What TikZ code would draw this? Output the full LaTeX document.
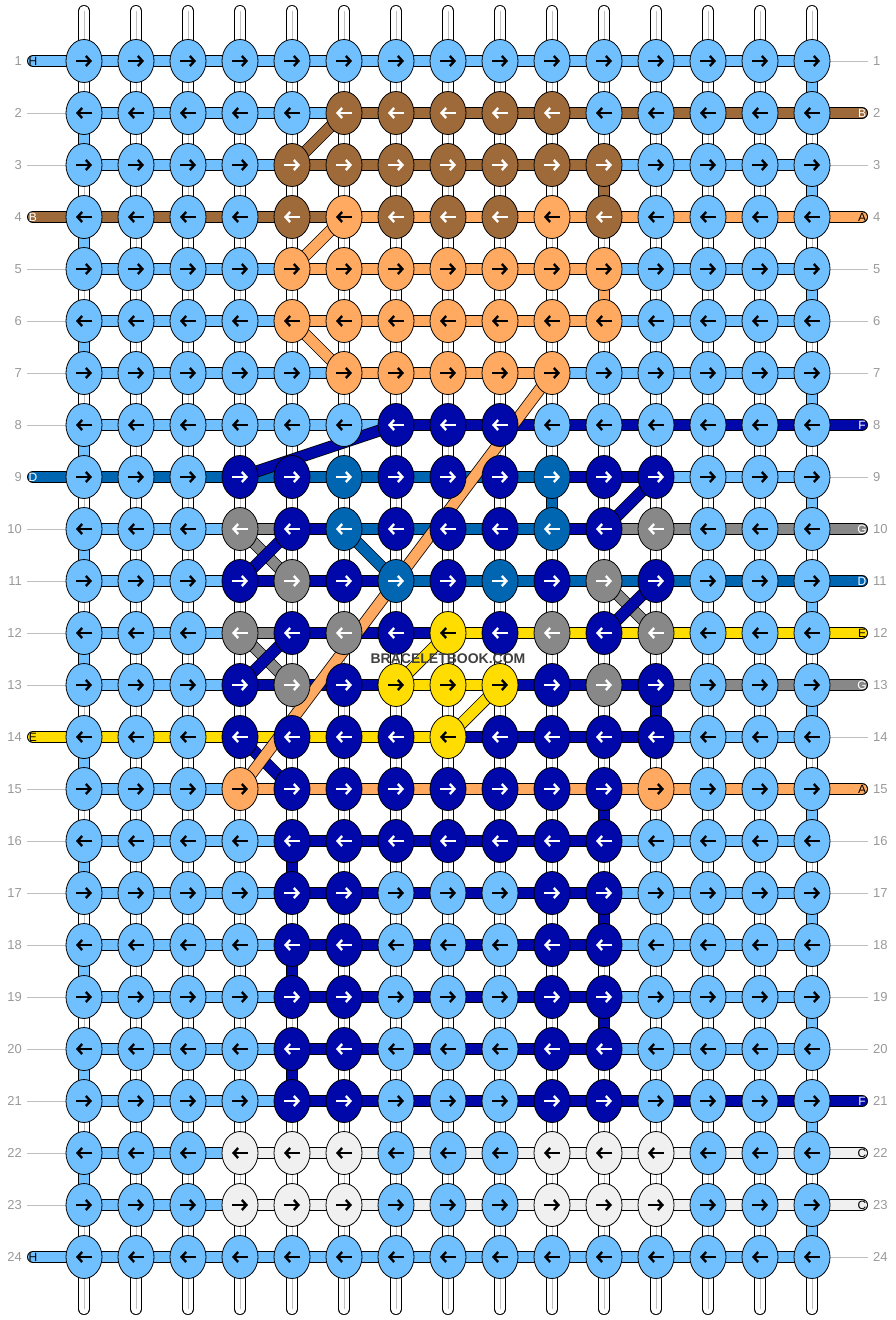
\documentclass[tikz,border=0pt]{standalone}
\usepackage{fontspec}
\setmainfont{Liberation Sans}
\usetikzlibrary{shapes.geometric,arrows.meta}
\definecolor{cL}{RGB}{112,192,255}
\definecolor{cB}{RGB}{158,106,58}
\definecolor{cA}{RGB}{255,170,96}
\definecolor{cF}{RGB}{0,8,170}
\definecolor{cD}{RGB}{0,102,178}
\definecolor{cG}{RGB}{136,136,136}
\definecolor{cE}{RGB}{255,221,0}
\definecolor{cC}{RGB}{240,240,240}
\colorlet{aL}{black}\colorlet{aB}{white}\colorlet{aA}{black}\colorlet{aF}{white}
\colorlet{aD}{white}\colorlet{aG}{white}\colorlet{aE}{black}\colorlet{aC}{black}
\colorlet{rownum}{black!40}
\pgfdeclarelayer{back}\pgfdeclarelayer{mid}\pgfsetlayers{back,mid,main}
\tikzset{
  knot/.style={ellipse,draw=black,line width=0.8pt,minimum width=36pt,minimum height=43pt,inner sep=0pt},
  thread/.style={draw=black,line width=0.8pt,double distance=10.4pt},
  warp/.style={thread,double=white,line cap=round},
  knotarrow/.style={line width=2.4pt,-{Straight Barb[length=4.5pt,width=10pt]}},
  rownr/.style={text=rownum,font=\fontsize{13}{13}\selectfont,inner sep=0pt},
  tabletter/.style={font=\fontsize{12}{12}\selectfont,inner sep=0pt},
  labelline/.style={draw=black!25,line width=0.8pt}
}
\begin{document}
\begin{tikzpicture}[x=1pt,y=-1pt]
\useasboundingbox (0,0) rectangle (896,1320);
% knots
\foreach \row [count=\r] in {
  {L,L,L,L,L,L,L,L,L,L,L,L,L,L,L},
  {L,L,L,L,L,B,B,B,B,B,L,L,L,L,L},
  {L,L,L,L,B,B,B,B,B,B,B,L,L,L,L},
  {L,L,L,L,B,A,B,B,B,A,B,L,L,L,L},
  {L,L,L,L,A,A,A,A,A,A,A,L,L,L,L},
  {L,L,L,L,A,A,A,A,A,A,A,L,L,L,L},
  {L,L,L,L,L,A,A,A,A,A,L,L,L,L,L},
  {L,L,L,L,L,L,F,F,F,L,L,L,L,L,L},
  {L,L,L,F,F,D,F,F,F,D,F,F,L,L,L},
  {L,L,L,G,F,D,F,F,F,D,F,G,L,L,L},
  {L,L,L,F,G,F,D,F,D,F,G,F,L,L,L},
  {L,L,L,G,F,G,F,E,F,G,F,G,L,L,L},
  {L,L,L,F,G,F,E,E,E,F,G,F,L,L,L},
  {L,L,L,F,F,F,F,E,F,F,F,F,L,L,L},
  {L,L,L,A,F,F,F,F,F,F,F,A,L,L,L},
  {L,L,L,L,F,F,F,F,F,F,F,L,L,L,L},
  {L,L,L,L,F,F,L,L,L,F,F,L,L,L,L},
  {L,L,L,L,F,F,L,L,L,F,F,L,L,L,L},
  {L,L,L,L,F,F,L,L,L,F,F,L,L,L,L},
  {L,L,L,L,F,F,L,L,L,F,F,L,L,L,L},
  {L,L,L,L,F,F,L,L,L,F,F,L,L,L,L},
  {L,L,L,C,C,C,L,L,L,C,C,C,L,L,L},
  {L,L,L,C,C,C,L,L,L,C,C,C,L,L,L},
  {L,L,L,L,L,L,L,L,L,L,L,L,L,L,L}}{
  \pgfmathsetmacro\xa{ifthenelse(mod(\r,2)==1,-8,8)}
  \pgfmathsetmacro\xb{ifthenelse(mod(\r,2)==1,8,-8)}
  \foreach \c [count=\i] in \row {
    \node[knot,fill=c\c] (k-\r-\i) at ({84+52*(\i-1)},{61+52*(\r-1)}) {};
    \draw[knotarrow,draw=a\c] ([xshift=\xa pt]k-\r-\i.center) -- ([xshift=\xb pt]k-\r-\i.center);
  }
  \node[rownr,anchor=east] (nl-\r) at (22,{61+52*(\r-1)}) {\r};
  \node[rownr,anchor=west] (nr-\r) at (873,{61+52*(\r-1)}) {\r};
}
% warp strands
\begin{pgfonlayer}{back}
\foreach \i in {1,...,15}{
  \coordinate (wt-\i) at ({84+52*(\i-1)},11);
  \coordinate (wb-\i) at ({84+52*(\i-1)},1309);
  \draw[warp] (wt-\i) -- (wb-\i);
  \draw[black!25,line width=0.8pt] (wt-\i) -- (wb-\i);
}
\end{pgfonlayer}
\begin{pgfonlayer}{mid}
% row threads between knots
\foreach \row [count=\r] in {
  {L,L,L,L,L,L,L,L,L,L,L,L,L,L},
  {L,L,L,L,L,B,B,B,B,B,B,B,B,B},
  {L,L,L,L,B,B,B,B,B,B,L,L,L,L},
  {B,B,B,B,B,A,A,A,A,A,A,A,A,A},
  {L,L,L,L,A,A,A,A,A,A,L,L,L,L},
  {L,L,L,L,A,A,A,A,A,A,L,L,L,L},
  {L,L,L,L,L,A,A,A,A,L,L,L,L,L},
  {L,L,L,L,L,L,F,F,F,F,F,F,F,F},
  {D,D,D,D,D,D,D,D,D,F,F,L,L,L},
  {L,L,L,G,F,D,D,D,D,F,G,G,G,G},
  {L,L,L,F,F,F,D,D,D,D,D,D,D,D},
  {L,L,L,G,F,F,F,E,E,E,E,E,E,E},
  {L,L,L,F,F,F,E,E,F,F,F,G,G,G},
  {E,E,E,E,E,E,E,F,F,F,F,L,L,L},
  {L,L,L,A,A,A,A,A,A,A,A,A,A,A},
  {L,L,L,L,F,F,F,F,F,F,L,L,L,L},
  {L,L,L,L,F,F,F,F,F,F,L,L,L,L},
  {L,L,L,L,F,F,F,F,F,F,L,L,L,L},
  {L,L,L,L,F,F,F,F,F,F,L,L,L,L},
  {L,L,L,L,F,F,F,F,F,F,L,L,L,L},
  {L,L,L,L,F,F,F,F,F,F,F,F,F,F},
  {L,L,L,C,C,C,C,C,C,C,C,C,C,C},
  {L,L,L,C,C,C,C,C,C,C,C,C,C,C},
  {L,L,L,L,L,L,L,L,L,L,L,L,L,L}}{
  \foreach \s [count=\i] in \row {
    \pgfmathtruncatemacro\j{\i+1}
    \draw[thread,double=c\s] (k-\r-\i.center) -- (k-\r-\j.center);
  }
}
% threads turning down at the edges and inside
\foreach \r in {2,4,...,22}{
  \pgfmathtruncatemacro\q{\r+1}
  \draw[thread,double=cL] (k-\r-1.center) -- (k-\q-1.center);
}
\foreach \r in {1,3,...,23}{
  \pgfmathtruncatemacro\q{\r+1}
  \draw[thread,double=cL] (k-\r-15.center) -- (k-\q-15.center);
}
\foreach \c/\r/\i in {B/3/11,A/5/11,D/9/10,F/13/12,F/15/11,F/17/11,F/19/11,F/16/5,F/18/5,F/20/5}{
  \pgfmathtruncatemacro\q{\r+1}
  \draw[thread,double=c\c] (k-\r-\i.center) -- (k-\q-\i.center);
}
% diagonal threads
\foreach \c/\ra/\ca/\rb/\cb in {B/2/6/3/5,A/4/6/5/5,A/6/5/7/6,F/8/7/9/4,F/9/12/10/11,
    G/10/4/11/5,F/10/5/11/4,D/10/6/11/7,G/11/11/12/12,F/11/12/12/11,
    G/12/4/13/5,F/12/5/13/4,E/12/8/13/7,E/13/9/14/8,F/14/4/15/5,A/7/10/15/4}
  \draw[thread,double=c\c] (k-\ra-\ca.center) -- (k-\rb-\cb.center);
% thread ends
\foreach \r/\c/\t in {1/L/H,4/B/B,9/D/D,14/E/E,24/L/H}{
  \coordinate (tl-\r) at (33,{61+52*(\r-1)});
  \draw[thread,double=c\c,line cap=round] (k-\r-1.center) -- (tl-\r);
  \node[tabletter,text=a\c] (tlt-\r) at (tl-\r) {\t};
}
\foreach \r/\c/\t in {2/B/B,4/A/A,8/F/F,10/G/G,11/D/D,12/E/E,13/G/G,15/A/A,21/F/F,22/C/C,23/C/C}{
  \coordinate (tr-\r) at (862,{61+52*(\r-1)});
  \draw[thread,double=c\c,line cap=round] (k-\r-15.center) -- (tr-\r);
  \node[tabletter,text=a\c] (trt-\r) at (tr-\r) {\t};
}
\foreach \r in {2,3,5,6,7,8,10,11,12,13,15,16,17,18,19,20,21,22,23}
  \draw[labelline] ([xshift=5pt]nl-\r.east) -- (k-\r-1.west);
\foreach \r in {1,3,5,6,7,9,14,16,17,18,19,20,24}
  \draw[labelline] (k-\r-15.east) -- ([xshift=-5pt]nr-\r.west);
\end{pgfonlayer}
\node[font=\bfseries\fontsize{14}{14}\selectfont,text=black!75] (wm) at (448,659) {BRACELETBOOK.COM};
\end{tikzpicture}
\end{document}
